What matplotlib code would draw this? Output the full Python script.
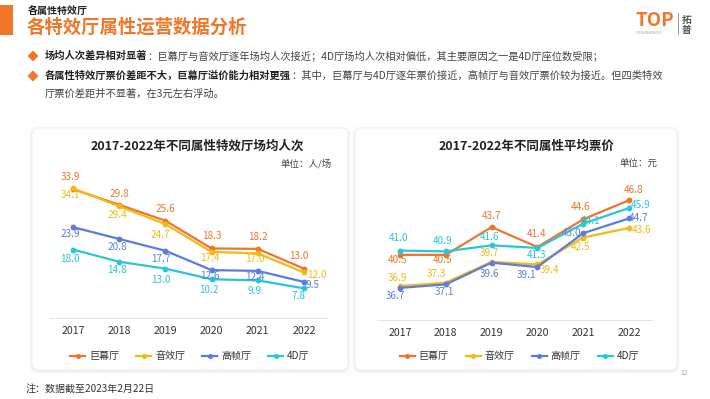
import matplotlib
matplotlib.use("Agg")
import matplotlib.pyplot as plt
from matplotlib.patches import FancyBboxPatch, Rectangle, Polygon
from matplotlib.lines import Line2D

plt.rcParams['font.family'] = ['Noto Sans CJK SC', 'DejaVu Sans']

# ---------------- data ----------------
years = ['2017', '2018', '2019', '2020', '2021', '2022']
series_names = ['巨幕厅', '音效厅', '高帧厅', '4D厅']

att_imax = [33.9, 29.8, 25.6, 18.3, 18.2, 13.0]
att_sound = [34.1, 29.4, 24.7, 17.4, 17.0, 12.0]
att_hfr = [23.9, 20.8, 17.7, 12.6, 12.4, 9.5]
att_4d = [18.0, 14.8, 13.0, 10.2, 9.9, 7.8]

price_imax = [40.5, 40.5, 43.7, 41.4, 44.6, 46.8]
price_sound = [36.9, 37.3, 39.7, 39.4, 42.5, 43.6]
price_hfr = [36.7, 37.1, 39.6, 39.1, 43.0, 44.7]
price_4d = [41.0, 40.9, 41.6, 41.3, 44.1, 45.9]

# ---------------- style ----------------
colors = ['#EF7430', '#F5B915', '#5D7BE0', '#27C6D8']
ORANGE = '#F0762A'
W, H = 710, 399

# label offsets in pixels (dx, dy up-positive)
off_left = [
    [(-3, 12), (0, 11), (0, 12), (0, 12), (0, 12), (-5, 13)],
    [(-3, -7), (-2, -9), (-5, -11), (-2, -6), (-3, -6), (13, -3)],
    [(-3, -7), (-2, -8), (-5, -8), (-2, -6), (-3, -6), (9, -3)],
    [(-3, -9), (-2, -8), (-5, -11), (-3, -11), (-3, -11), (-5, -8)],
]
off_right = [
    [(-2, -5), (-3, -5), (0, 11), (-1, 13), (-3, 12), (5, 10)],
    [(-2, 8), (-9, 9), (-2, 9), (12, -6), (-3, -9), (12, -2)],
    [(-4, -8), (-1, -8), (-2, -11), (-11, -8), (-12, 0), (10, 0)],
    [(-1, 13), (-3, 10), (-2, 8), (-1, -7), (7, 3), (12, 3)],
]

fig = plt.figure(figsize=(W / 100, H / 100), dpi=100)
fig.patch.set_facecolor('white')

bg = fig.add_axes([0, 0, 1, 1], zorder=0)
bg.set_xlim(0, W)
bg.set_ylim(H, 0)
bg.axis('off')

# header
bg.add_patch(Rectangle((0, 5), 13, 30, color=ORANGE, lw=0))
bg.text(28, 11, '各属性特效厅', fontsize=7.2, fontweight='bold', color='#222222', va='center', ha='left')
bg.text(27, 27, '各特效厅属性运营数据分析', fontsize=13.2, fontweight='bold', color=ORANGE, va='center', ha='left')

# logo
bg.text(635, 21, 'TOP', fontsize=13.5, fontweight='bold', color=ORANGE, va='center', ha='left')
bg.text(636, 33.5, 'OPEN & IMAGINATION', fontsize=1.8, color='#999999', va='center', ha='left')
bg.plot([678, 678], [13, 34], color='#888888', lw=0.6)
bg.text(687, 19.5, '拓', fontsize=7, fontweight='bold', color='#555555', va='center', ha='center')
bg.text(687, 30.5, '普', fontsize=7, fontweight='bold', color='#555555', va='center', ha='center')

# bullets
renderer = fig.canvas.get_renderer()


def diamond(x, y, s=5.5):
    bg.add_patch(Polygon([(x - s, y), (x, y - s), (x + s, y), (x, y + s)], closed=True,
                         color=ORANGE, lw=0))


def mixed_line(x, y, bold, normal, fs=7.4):
    t = bg.text(x, y, bold, fontsize=fs, fontweight='bold', color='#222222', va='center', ha='left')
    bb = t.get_window_extent(renderer=renderer)
    bg.text(bb.x1, y, normal, fontsize=fs, color='#444444', va='center', ha='left')


diamond(33, 56)
mixed_line(45, 56, '场均人次差异相对显著',
           '：巨幕厅与音效厅逐年场均人次接近；4D厅场均人次相对偏低，其主要原因之一是4D厅座位数受限；')
diamond(33, 76)
mixed_line(45, 76, '各属性特效厅票价差距不大，巨幕厅溢价能力相对更强',
           '：其中，巨幕厅与4D厅逐年票价接近，高帧厅与音效厅票价较为接近。但四类特效')
bg.text(45, 94, '厅票价差距并不显著，在3元左右浮动。', fontsize=7.4, color='#444444', va='center', ha='left')

# panels
for (x0, x1) in [(32, 348), (355, 677)]:
    y0, y1 = 128, 370
    for k, a in [(3, 0.012), (2, 0.02), (1, 0.03)]:
        bg.add_patch(FancyBboxPatch((x0 - k, y0 - k + 1), x1 - x0 + 2 * k, y1 - y0 + 2 * k,
                                    boxstyle='round,pad=0,rounding_size=8', fc='black',
                                    ec='none', alpha=a))
    bg.add_patch(FancyBboxPatch((x0, y0), x1 - x0, y1 - y0,
                                boxstyle='round,pad=0,rounding_size=7', fc='white',
                                ec='#EFEFEF', lw=0.6))

# footer
bg.text(26, 389, '注：数据截至2023年2月22日', fontsize=7.2, color='#333333', va='center', ha='left')
bg.text(684, 373, '12', fontsize=5, color='#AAAAAA', va='center', ha='center')

# chart titles and units
bg.text(197, 146, '2017-2022年不同属性特效厅场均人次', fontsize=9, fontweight='bold',
        color='#222222', va='center', ha='center')
bg.text(332, 164, '单位：人/场', fontsize=6.8, color='#444444', va='center', ha='right')
bg.text(527, 146, '2017-2022年不同属性平均票价', fontsize=9, fontweight='bold',
        color='#222222', va='center', ha='center')
bg.text(658, 164, '单位：元', fontsize=6.8, color='#444444', va='center', ha='right')


def px_axes(x0, y0, x1, y1):
    ax = fig.add_axes([x0 / W, 1 - y1 / H, (x1 - x0) / W, (y1 - y0) / H], zorder=2)
    ax.patch.set_alpha(0)
    return ax


def draw_chart(ax, data, offsets, ylim):
    xs = list(range(len(years)))
    for vals, c, offs in zip(data, colors, offsets):
        ax.plot(xs, vals, color=c, lw=1.6, marker='o', markersize=3.2, clip_on=False, zorder=3)
        for x, v, (dx, dy) in zip(xs, vals, offs):
            ax.annotate(f'{v:.1f}', (x, v), xytext=(dx * 0.72, dy * 0.72),
                        textcoords='offset points', ha='center', va='center',
                        fontsize=7.2, color=c, zorder=4, annotation_clip=False)
    ax.set_xlim(-0.5, len(years) - 0.5)
    ax.set_ylim(*ylim)
    ax.set_xticks(xs)
    ax.set_xticklabels(years, fontsize=7.6, color='#333333')
    ax.tick_params(axis='x', length=0, pad=6)
    ax.set_yticks([])
    for s in ['top', 'right', 'left']:
        ax.spines[s].set_visible(False)
    ax.spines['bottom'].set_color('#E3E3E3')
    ax.spines['bottom'].set_linewidth(0.8)


axL = px_axes(50, 166, 327, 318)
draw_chart(axL, [att_imax, att_sound, att_hfr, att_4d], off_left, (0, 40))
axR = px_axes(377, 172.4, 652, 320)
draw_chart(axR, [price_imax, price_sound, price_hfr, price_4d], off_right, (33, 50))

handles = [Line2D([], [], color=c, lw=1.6, marker='o', markersize=2.6) for c in colors]
for cx in [190, 519.5]:
    fig.legend(handles, series_names, loc='center', bbox_to_anchor=(cx / W, 1 - 356 / H),
               ncol=4, frameon=False, fontsize=7.2, handlelength=1.5, handletextpad=0.4,
               columnspacing=1.7, labelcolor='#333333')

fig.savefig('out.png', dpi=100, facecolor='white')
